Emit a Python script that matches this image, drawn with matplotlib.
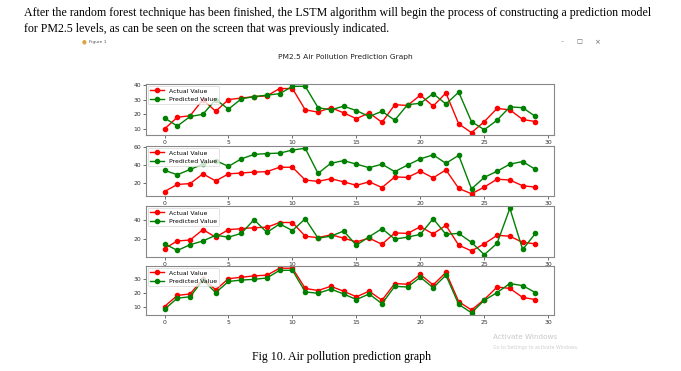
import numpy as np
import matplotlib
matplotlib.use('Agg')
import matplotlib.pyplot as plt

# time steps and the real PM2.5 values
steps = list(range(30))
actual = [10, 18, 19, 30, 22, 30, 31, 32, 32.5, 37.5, 37.5, 23, 21.5, 24.5, 21,
          17, 21, 14.5, 26.5, 26, 33, 25.5, 34.5, 13.5, 7.5, 15, 24, 23, 16.5, 15]

# predictions of the four models, one per panel
pred_1 = [17.5, 12, 18.5, 20, 30, 23.5, 30.5, 32, 33, 34, 39, 39, 24.5, 23, 25.5,
          22.5, 18.5, 22, 16, 26.5, 27.5, 34, 27, 35, 15, 9.5, 16, 25, 24.5, 18.5]
pred_2 = [34, 29, 35, 41, 45, 38.5, 47, 52, 53, 53.5, 57, 59, 30.5, 42, 45,
          41, 37, 41, 32.5, 40, 47, 51.5, 42, 51, 13, 26, 33, 41, 44, 35]
pred_3 = [15, 8, 14, 18, 24, 22, 26, 40.5, 27, 36, 29, 41.5, 21, 23, 28.5,
          13.5, 22.5, 31, 20, 22, 25, 41.5, 25, 26, 16.5, 3.5, 15.5, 52.5, 9, 26]
pred_4 = [8, 16, 17, 29, 20, 28, 29, 29.5, 30.5, 36, 36, 20.5, 19.5, 22.5, 19,
          15, 19, 12, 24.5, 24, 31, 23.5, 32.5, 11.5, 5.5, 14.5, 20, 26.5, 25, 20]
predictions = [pred_1, pred_2, pred_3, pred_4]

W, H = 681, 371
fig = plt.figure(figsize=(W / 100, H / 100), dpi=100)
fig.patch.set_facecolor('white')

def px(x, y):
    return x / W, 1 - y / H

# document text above the screenshot
serif = 'Liberation Serif'
fig.text(*px(24, 13), 'After the random forest technique has been finished, the LSTM algorithm will begin the process of constructing a prediction model',
         family=serif, fontsize=8.6, va='center', ha='left')
fig.text(*px(24, 29), 'for PM2.5 levels, as can be seen on the screen that was previously indicated.',
         family=serif, fontsize=8.6, va='center', ha='left')

# window chrome
fig.text(*px(84, 42), '\u25CF', fontsize=4, color='#d9a441', va='center', ha='center')
fig.text(*px(89, 42), 'Figure 1', fontsize=3.2, color='#555555', va='center', ha='left')
fig.text(*px(562, 42), '\u2013', fontsize=4.5, color='#666666', va='center', ha='center')
fig.text(*px(579, 42), '\u25A1', fontsize=4.5, color='#666666', va='center', ha='center')
fig.text(*px(597, 42), '\u00D7', fontsize=5, color='#666666', va='center', ha='center')

fig.text(*px(345, 57), 'PM2.5 Air Pollution Prediction Graph', fontsize=5.4,
         color='#222222', va='center', ha='center')

# panel boxes: (top, bottom) in pixels
boxes = [(84, 135), (146, 196), (206, 257), (266, 315)]
left, right = 146, 554

for (top, bottom), pred in zip(boxes, predictions):
    ax = fig.add_axes([left / W, 1 - bottom / H, (right - left) / W, (bottom - top) / H])
    ax.plot(steps, actual, color='red', marker='o', markersize=3, linewidth=1, label='Actual Value')
    ax.plot(steps, pred, color='green', marker='o', markersize=3, linewidth=1, label='Predicted Value')
    ax.set_xticks([0, 5, 10, 15, 20, 25, 30])
    ax.tick_params(labelsize=4.4, length=2, width=0.5, pad=1.5, colors='#333333')
    for s in ax.spines.values():
        s.set_color('#888888')
        s.set_linewidth(0.8)
    leg = ax.legend(loc='upper left', fontsize=4.4, borderpad=0.4, labelspacing=0.5,
                    handlelength=2.2, borderaxespad=0.3, fancybox=True, framealpha=0.8)
    leg.get_frame().set_linewidth(0.5)

# watermark
fig.text(*px(493, 337), 'Activate Windows', fontsize=5.2, color='#c8c8c8', va='center', ha='left')
fig.text(*px(493, 347), 'Go to Settings to activate Windows.', fontsize=3.4, color='#cfcfcf', va='center', ha='left')

# caption
fig.text(*px(342, 357), 'Fig 10. Air pollution prediction graph', family=serif,
         fontsize=8.6, va='center', ha='center')

fig.savefig('out.png', dpi=100)
